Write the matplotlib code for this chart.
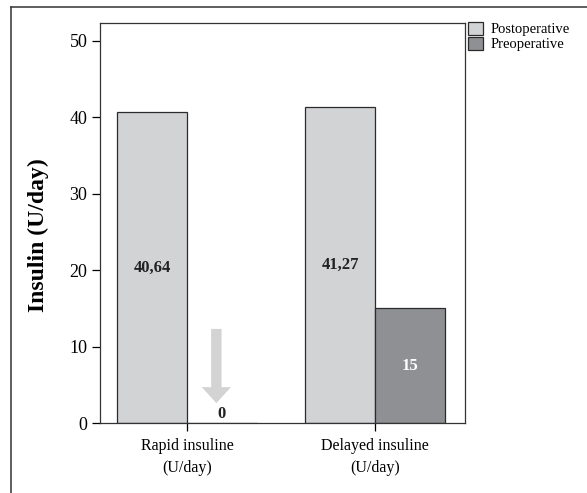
import matplotlib
matplotlib.use("Agg")
import matplotlib.pyplot as plt
from matplotlib.patches import FancyArrowPatch, ArrowStyle
from matplotlib.lines import Line2D
import numpy as np

plt.rcParams['font.family'] = ['Liberation Serif', 'DejaVu Serif']

categories = ["Rapid insuline\n(U/day)", "Delayed insuline\n(U/day)"]
series_names = ["Postoperative", "Preoperative"]
postoperative = [40.64, 41.27]
preoperative = [0, 15]
value_labels_post = ["40,64", "41,27"]
value_labels_pre = ["0", "15"]
yticks = [0, 10, 20, 30, 40, 50]

c_post = "#d2d3d5"
c_pre = "#8f9094"
edge = "#2b2b2b"

fig = plt.figure(figsize=(5.87, 4.93), dpi=100)
ax = fig.add_axes([100/587, 70/493, 365/587, 400/493])

x = np.arange(len(categories))
w = 0.372
b1 = ax.bar(x - w/2, postoperative, w, color=c_post, edgecolor=edge, linewidth=0.9, label=series_names[0])
b2 = ax.bar(x + w/2, preoperative, w, color=c_pre, edgecolor=edge, linewidth=0.9, label=series_names[1])

ax.set_ylim(0, 52.3)
ax.set_xlim(-0.463, 1.479)
ax.set_yticks(yticks)
ax.set_xticks(x)
ax.set_xticklabels(categories, fontsize=11.5, linespacing=1.5)
ax.tick_params(axis='y', labelsize=13, length=6, width=0.9, direction='out', pad=3)
ax.tick_params(axis='x', length=6, width=0.9, direction='out', pad=5)
for s in ax.spines.values():
    s.set_linewidth(0.9)
    s.set_color("#333333")

ax.set_ylabel("Insulin (U/day)", fontsize=17, fontweight='bold')
ax.yaxis.set_label_coords(-0.14, 0.47)

# value labels
for i in range(len(x)):
    ax.text(x[i] - w/2, postoperative[i] / 2, value_labels_post[i], ha='center', va='center',
            fontsize=12, fontweight='bold', color='#222222')
# preoperative labels
ax.text(x[0] + w/2, preoperative[0] + 0.1, value_labels_pre[0], ha='center', va='bottom',
        fontsize=12, fontweight='bold', color='#222222')
ax.text(x[1] + w/2, preoperative[1] / 2, value_labels_pre[1], ha='center', va='center',
        fontsize=12, fontweight='bold', color='white')

# arrow pointing to zero value
arrow = FancyArrowPatch((x[0] + w/2 - 0.03, 12.3), (x[0] + w/2 - 0.03, 2.6),
                        arrowstyle=ArrowStyle.Simple(head_length=11.5, head_width=21, tail_width=7.5),
                        mutation_scale=1, color="#d3d3d3", shrinkA=0, shrinkB=0, linewidth=0)
ax.add_patch(arrow)

# legend
leg = fig.legend(handles=[b1, b2], labels=series_names, loc='upper left',
                 bbox_to_anchor=(468/587, 1 - 22/493), frameon=False, fontsize=10.5,
                 handlelength=1.05, handleheight=0.95, handletextpad=0.5, labelspacing=0.05,
                 borderpad=0.0, borderaxespad=0.0)

# outer frame (top and left lines)
fig.add_artist(Line2D([11/587, 1.0], [1 - 7/493, 1 - 7/493], color="#333333", linewidth=1.1,
                      transform=fig.transFigure))
fig.add_artist(Line2D([11/587, 11/587], [1 - 7/493, 0.0], color="#333333", linewidth=1.1,
                      transform=fig.transFigure))

fig.savefig("out.png", dpi=100)
